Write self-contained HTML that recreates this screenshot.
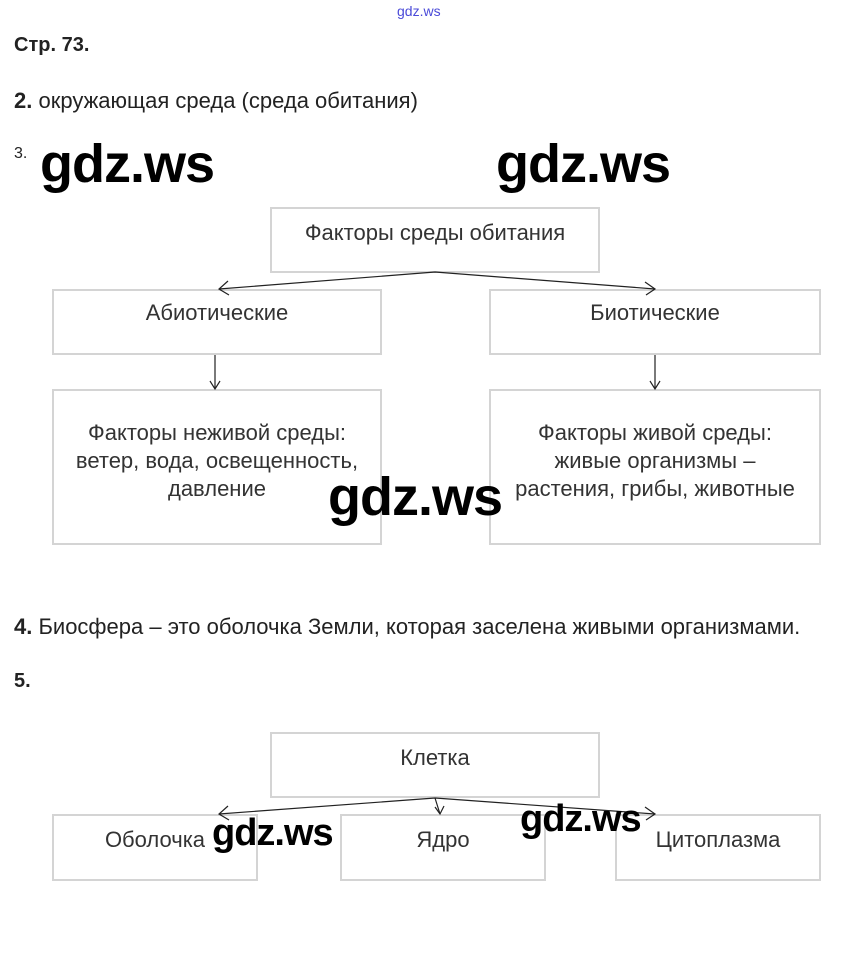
<!DOCTYPE html>
<html><head><meta charset="utf-8"><style>
body{margin:0;width:850px;height:980px;background:#fff;position:relative;font-family:"Liberation Sans",sans-serif;color:#222;overflow:hidden}
.a{position:absolute;white-space:nowrap}
.b{position:absolute;border:2px solid #d4d4d4;box-sizing:border-box;font-size:22px;text-align:center;color:#333;line-height:28px}
.w{position:absolute;font-size:54px;font-weight:bold;color:#000;letter-spacing:-1px;line-height:1;white-space:nowrap}
</style></head><body>
<div class="a" style="left:397px;top:3px;font-size:14px;color:#4a4ad8">gdz.ws</div>
<div class="a" style="left:14px;top:34px;font-size:20px;font-weight:bold">Стр. 73.</div>
<div class="a" style="left:14px;top:88px;font-size:22px"><b>2.</b> окружающая среда (среда обитания)</div>
<div class="a" style="left:14px;top:145px;font-size:16px">3.</div>
<div class="w" style="left:40px;top:137px">gdz.ws</div>
<div class="w" style="left:496px;top:137px">gdz.ws</div>

<div class="b" style="left:270px;top:207px;width:330px;height:66px;padding-top:10px">Факторы среды обитания</div>
<div class="b" style="left:52px;top:289px;width:330px;height:66px;padding-top:8px">Абиотические</div>
<div class="b" style="left:489px;top:289px;width:332px;height:66px;padding-top:8px">Биотические</div>
<div class="b" style="left:52px;top:389px;width:330px;height:156px;padding-top:28px">Факторы неживой среды:<br>ветер, вода, освещенность,<br>давление</div>
<div class="b" style="left:489px;top:389px;width:332px;height:156px;padding-top:28px">Факторы живой среды:<br>живые организмы –<br>растения, грибы, животные</div>
<div class="w" style="left:328px;top:470px">gdz.ws</div>

<div class="a" style="left:14px;top:614px;font-size:22px"><b>4.</b> Биосфера – это оболочка Земли, которая заселена живыми  организмами.</div>
<div class="a" style="left:14px;top:670px;font-size:20px;font-weight:bold">5.</div>

<div class="b" style="left:270px;top:732px;width:330px;height:66px;padding-top:10px">Клетка</div>
<div class="b" style="left:52px;top:814px;width:206px;height:67px;padding-top:10px">Оболочка</div>
<div class="b" style="left:340px;top:814px;width:206px;height:67px;padding-top:10px">Ядро</div>
<div class="b" style="left:615px;top:814px;width:206px;height:67px;padding-top:10px">Цитоплазма</div>

<svg style="position:absolute;left:0;top:0" width="850" height="980" fill="none" stroke="#222" stroke-width="1.2">
<path d="M435 272 L219 289 M435 272 L655 289"/>
<path d="M228 281 L219 289 L229 295 M645 282 L655 289 L646 295"/>
<path d="M215 355 V389 M210 381 L215 389 L220 381"/>
<path d="M655 355 V389 M650 381 L655 389 L660 381"/>
<path d="M435 798 L219 814 M435 798 L655 814 M435 798 L440 814"/>
<path d="M228 806 L219 814 L229 820 M645 807 L655 814 L646 820 M435 807 L440 814 L444 806"/>
</svg>
<div class="w" style="left:212px;top:814px;font-size:38px">gdz.ws</div>
<div class="w" style="left:520px;top:800px;font-size:38px">gdz.ws</div>
</body></html>
